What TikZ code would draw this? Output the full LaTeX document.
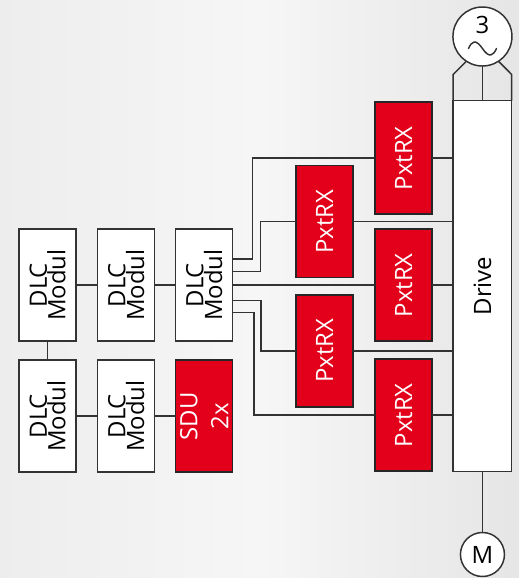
\documentclass[tikz,border=0pt]{standalone}
\usepackage{graphicx}
\usepackage{fontspec}
\setmainfont{Open Sans}
\usepackage{tikz}
\usetikzlibrary{positioning,calc}
\definecolor{red}{HTML}{E2001A}
\definecolor{wire}{HTML}{333333}
\newcommand{\uptext}[1]{\rotatebox{90}{\parbox{2.7cm}{\centering\lineskiplimit=-10pt #1}}}

\begin{document}
\begin{tikzpicture}[
    node distance=0.5cm and 0.5cm,
    line width=1.05pt,
    every node/.style={font=\fontsize{17}{13.2}\selectfont, outer sep=0pt},
    box/.style={draw=wire, fill=white, inner sep=0pt, minimum width=1.425cm, minimum height=2.8cm, align=center},
    redbox/.style={box, draw=black!85, fill=red, text=white},
    drivebox/.style={box, minimum width=1.4625cm, minimum height=9.275cm},
    machine/.style={draw=wire, fill=white, circle, inner sep=0pt},
    wired/.style={draw=wire},
  ]
    \useasboundingbox (0,0) rectangle (12.975,-14.45);
    \shade[left color=black!7, right color=black!10, middle color=black!3.5] (0,0) rectangle (12.975,-14.45);

    % DLC rows
    \node[box] (dlca) at (1.19,-7.13) {\uptext{DLC\\Modul}};
    \node[box, right=0.54cm of dlca] (dlcb) {\uptext{DLC\\Modul}};
    \node[box, right=0.525cm of dlcb] (dlcc) {\uptext{DLC\\Modul}};
    \node[box, below=0.475cm of dlca] (dlcd) {\uptext{DLC\\Modul}};
    \node[box, right=0.54cm of dlcd] (dlce) {\uptext{DLC\\Modul}};
    \node[redbox, right=0.525cm of dlce] (sdu) {\uptext{SDU\\[8.8pt]2x}};

    % converters
    \node[redbox, right=1.5875cm of dlcc, yshift=1.59cm] (pxtb) {\uptext{PxtRX}};
    \node[redbox, right=1.5875cm of dlcc, yshift=-1.64cm] (pxtd) {\uptext{PxtRX}};
    \node[redbox, right=3.5625cm of dlcc] (pxtc) {\uptext{PxtRX}};
    \node[redbox, above=0.375cm of pxtc] (pxta) {\uptext{PxtRX}};
    \node[redbox, below=0.45cm of pxtc] (pxte) {\uptext{PxtRX}};

    % drive and machines
    \node[drivebox, right=0.525cm of pxtc, yshift=-0.02cm] (drive) {\uptext{Drive}};
    \node[machine, minimum size=1.475cm, above=0.8625cm of drive] (net) {};
    \node[yshift=0.3cm] (three) at (net.center) {3};
    \node[machine, minimum size=1.1cm, below=1.525cm of drive] (motor) {M};

    \draw[wired] (dlca) -- (dlcb);
    \draw[wired] (dlcb) -- (dlcc);
    \draw[wired] (dlca) -- (dlcd);
    \draw[wired] (dlcd) -- (dlce);
    \draw[wired] (dlce) -- (sdu);

    \draw[wired] ([yshift=0.65cm]dlcc.east) -- ++(0.5,0) |- (pxta.west);
    \draw[wired] ([yshift=0.34cm]dlcc.east) -- ++(0.69,0) |- (pxtb.west);
    \draw[wired] (dlcc.east) -- (pxtc.west);
    \draw[wired] ([yshift=-0.38cm]dlcc.east) -- ++(0.71,0) |- (pxtd.west);
    \draw[wired] ([yshift=-0.68cm]dlcc.east) -- ++(0.53,0) |- (pxte.west);

    \draw[wired] (pxta.east) -- (pxta.east -| drive.west);
    \draw[wired] (pxtb.east) -- (pxtb.east -| drive.west);
    \draw[wired] (pxtc.east) -- (pxtc.east -| drive.west);
    \draw[wired] (pxtd.east) -- (pxtd.east -| drive.west);
    \draw[wired] (pxte.east) -- (pxte.east -| drive.west);

    \draw[wired] (net.south) -- (drive.north);
    \draw[wired] (net.237) -- ([yshift=0.65cm]drive.north west) -- (drive.north west);
    \draw[wired] (net.303) -- ([yshift=0.65cm]drive.north east) -- (drive.north east);
    \draw[wired] (drive.south) -- (motor.north);

    % tilde in the net circle
    \draw[wired, line cap=round] ($(net.center)+(-0.35,-0.3)$) .. controls +(0.08,0.18) and +(-0.17,0.25) .. ($(net.center)+(0,-0.3)$) .. controls +(0.17,-0.25) and +(-0.08,-0.18) .. ($(net.center)+(0.35,-0.3)$);
  \end{tikzpicture}
\end{document}
